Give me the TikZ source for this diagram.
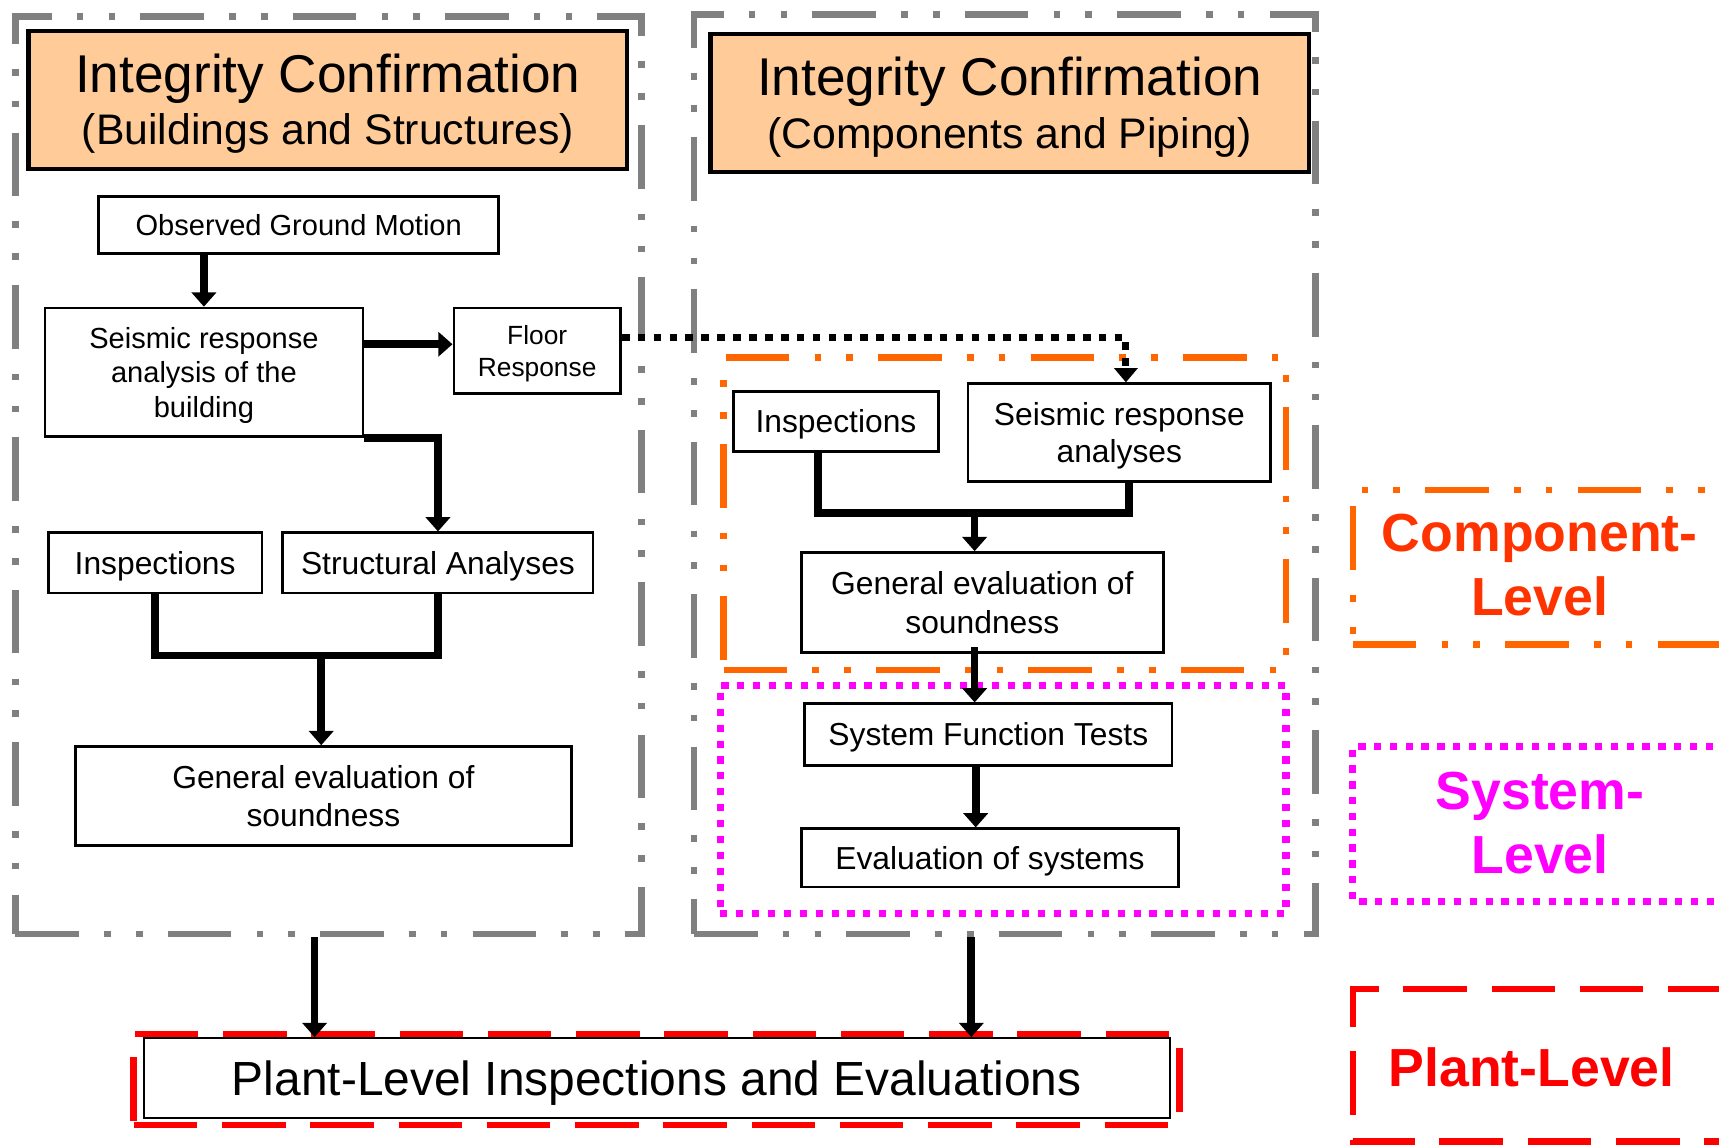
\documentclass[tikz,border=0pt]{standalone}
\usepackage{fontspec}
\setmainfont{Liberation Sans}
\usetikzlibrary{arrows.meta}
\definecolor{framegray}{HTML}{808080}
\definecolor{titlefill}{HTML}{FFCC99}
\definecolor{comporange}{HTML}{FF6600}
\definecolor{comptext}{HTML}{FF3300}
\definecolor{sysmag}{HTML}{FF00FF}
\definecolor{plantred}{HTML}{FF0000}
\newcommand\myfs[2]{\fontsize{#1}{#2}\selectfont}
% centred multi-line block with fixed baseline spacing; baseline = first line
\newcommand\txtblock[1]{\vtop{\lineskiplimit=-200pt\lineskip=0pt\halign{\hfil##\hfil\cr#1\crcr}}}

\begin{document}
\begin{tikzpicture}[x=1pt,y=-1pt,
  box/.style={draw, line width=2.5pt, fill=white, inner sep=0pt},
  titlebox/.style={draw, line width=4pt, fill=titlefill, inner sep=0pt, font=\myfs{39}{47.8},
    text height=34.7pt, text depth=47.8pt},
  grpframe/.style={draw, inner sep=0pt},
  dashdotdot/.style={dash pattern=on 58pt off 23pt on 6pt off 23pt on 6pt off 23pt},
  grayframe/.style={grpframe, framegray, line width=6pt, dashdotdot},
  compframe/.style={grpframe, comporange, line width=6pt, dashdotdot},
  sysframe/.style={grpframe, sysmag, line width=6.5pt, dash pattern=on 6.5pt off 8pt},
  plantframe/.style={grpframe, plantred, line width=6pt, dash pattern=on 58pt off 22.5pt},
  flow/.style={line width=7pt, -{Triangle[length=13pt,width=22pt]}},
  linkline/.style={line width=7pt},
  dotflow/.style={line width=6.5pt, dash pattern=on 7pt off 7.5pt, -{Triangle[length=13pt,width=21pt]}},
  lvltext/.style={font=\myfs{48.9}{58}\bfseries, inner sep=0pt, text height=35pt},
  % font size, cap height
  t265/.style={font=\myfs{26.5}{31.5}, text height=19pt, text depth=0pt},
  t24/.style={font=\myfs{24}{29}, text height=17.2pt, text depth=0pt},
  t29/.style={font=\myfs{29}{35}, text height=20.8pt, text depth=0pt}
]
\useasboundingbox (0,0) rectangle (1568,1044);
\clip (0,0) rectangle (1568,1044);
\fill[white] (0,0) rectangle (1568,1044);

% group frames
\node[grayframe, minimum width=571pt, minimum height=837pt] (bldg) at (299.5,433.5) {};
\node[grayframe, minimum width=567pt, minimum height=839pt] (comp) at (916.5,432.5) {};
\node[compframe, minimum width=513pt, minimum height=285pt] (complvl) at (916.5,468.5) {};
\node[sysframe, minimum width=516pt, minimum height=208pt] (syslvl) at (915,729) {};
\node[plantframe, minimum width=954pt, minimum height=83pt] (plantlvl) at (599,984.5) {};

% titles
\node[titlebox, minimum width=546pt, minimum height=126pt] (tl) at (299,91)
  {\txtblock{{\myfs{48.5}{48}Integrity Confirmation}\cr(Buildings and Structures)}};
\node[titlebox, minimum width=546pt, minimum height=126pt] (tr) at (921,94)
  {\txtblock{{\myfs{48.5}{48}Integrity Confirmation}\cr(Components and Piping)}};

% buildings and structures
\node[box, t265, minimum width=365pt, minimum height=52pt] (obs) at (272.5,205) {Observed Ground Motion};
\node[box, t265, text depth=63pt, minimum width=290pt, minimum height=117pt] (seis) at (186,339.5)
  {\txtblock{Seismic response\cr analysis of the\cr building}};
\node[box, t24, text depth=29pt, minimum width=152pt, minimum height=78pt] (floor) at (490,320)
  {\txtblock{Floor\cr Response}};
\node[box, t29, minimum width=195pt, minimum height=55pt] (insL) at (141.5,513.5) {Inspections};
\node[box, t29, minimum width=283pt, minimum height=55pt] (struct) at (399.5,513.5) {Structural Analyses};
\node[box, t29, text depth=35pt, minimum width=452pt, minimum height=90pt] (genL) at (295,726)
  {\txtblock{General evaluation of\cr soundness}};

% components and piping
\node[box, t29, minimum width=187pt, minimum height=55pt] (insR) at (762.5,384.5) {Inspections};
\node[box, t29, font=\myfs{29}{34}, text depth=34pt, minimum width=276pt, minimum height=89pt] (seisR) at (1021,394.5)
  {\txtblock{Seismic response\cr analyses}};
\node[box, t29, text depth=35pt, minimum width=330pt, minimum height=91pt] (genR) at (896,549.5)
  {\txtblock{General evaluation of\cr soundness}};
\node[box, t29, minimum width=335pt, minimum height=56pt] (sft) at (901.5,670) {System Function Tests};
\node[box, t29, minimum width=344pt, minimum height=53pt] (evs) at (903,782.5) {Evaluation of systems};

% plant level
\node[box, line width=2pt, font=\myfs{43.7}{50}, text height=31.3pt, text depth=0pt,
  minimum width=936pt, minimum height=73pt] (plant) at (599,983.5) {Plant-Level Inspections and Evaluations};

% connectors, buildings side
\draw[flow] (seis.north |- obs.south) -- (seis.north);
\coordinate (flin) at ([yshift=6pt]floor.west);
\draw[flow] (seis.east |- flin) -- (flin);
\draw[flow] (seis.south east) -| (struct.north);
\coordinate (jL) at (293,598);
\draw[linkline] (insL.south) |- (jL) -| (struct.south);
\draw[flow] (jL) -- (jL |- genL.north);

% floor response feeds the component analyses
\draw[dotflow] ([yshift=12pt]floor.east) -| ([xshift=6pt]seisR.north);

% connectors, components side
\coordinate (jR) at (889,468);
\draw[linkline] ([xshift=-16.5pt]insR.south) |- (jR) -| ([xshift=9pt]seisR.south);
\draw[flow] (jR) -- (jR |- genR.north);
\draw[flow] ([yshift=6pt]jR |- genR.south) -- (jR |- sft.north);
\coordinate (sx) at (890,0);
\draw[flow] (sx |- sft.south) -- (sx |- evs.north);

% into the plant-level evaluation
\coordinate (bL) at ([xshift=-12.5pt]bldg.south);
\coordinate (bR) at ([xshift=-30.5pt]comp.south);
\draw[flow] (bL) -- (bL |- plant.north);
\draw[flow] (bR) -- (bR |- plant.north);

% legend frames
\draw[comporange, line width=6pt, dashdotdot, dash phase=73pt] (1234,447) -- (1620,447);
\draw[comporange, line width=6pt, dashdotdot, dash phase=124pt] (1234,447) -- (1234,588);
\draw[comporange, line width=6pt, dashdotdot] (1234,588) -- (1620,588);
\draw[sysmag, line width=6.5pt, dash pattern=on 6.7pt off 7.7pt] (1620,681) -| (1234,822) -- (1620,822);
\draw[plantred, line width=6pt, dash pattern=on 58pt off 22.5pt, dash phase=40pt] (1620,902) -| (1234,1041) -- (1620,1041);

% legend labels
\node[lvltext, text=comptext, text depth=58.4pt] (lc) at (1404.5,514.9) {\txtblock{Component-\cr Level}};
\node[lvltext, text=sysmag, text depth=57pt] (ls) at (1404.7,749.5) {\txtblock{System-\cr Level}};
\node[lvltext, text=plantred, text depth=0pt] (lp) at (1397,974) {Plant-Level};
\end{tikzpicture}
\end{document}
